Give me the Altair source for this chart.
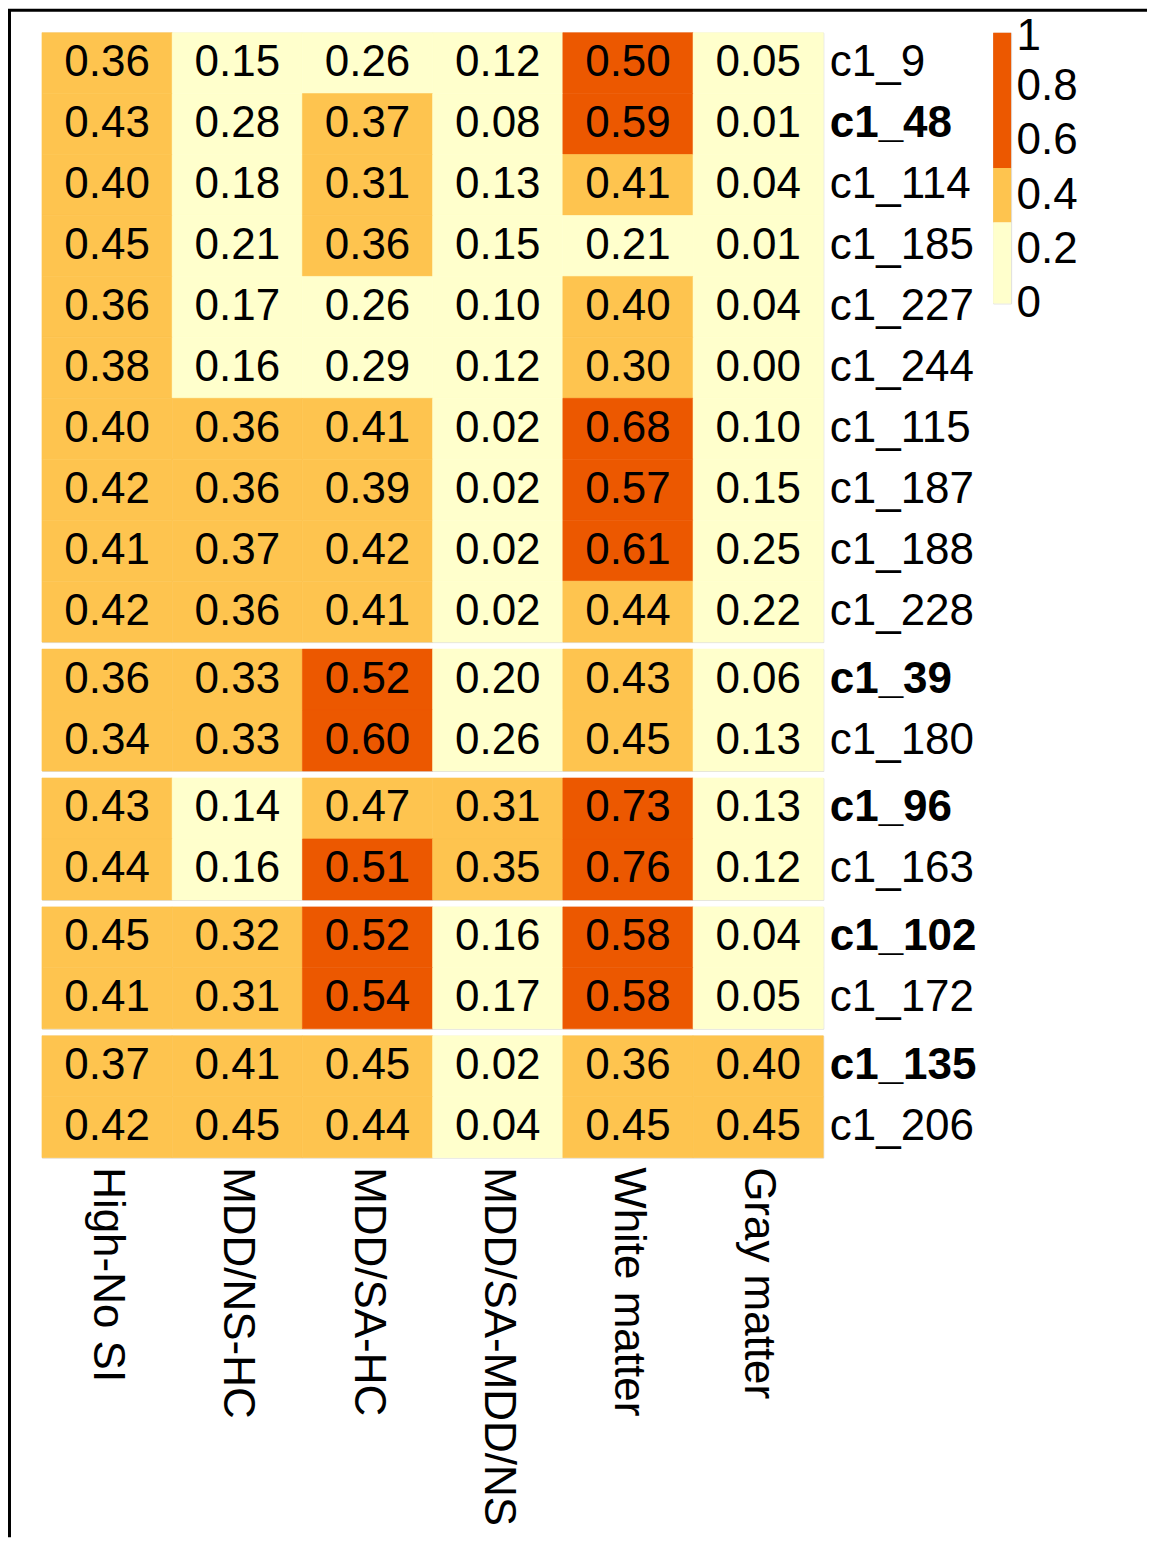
import json
import altair as alt
import pandas as pd

# ---------------- data ----------------
columns = ["High-No SI", "MDD/NS-HC", "MDD/SA-HC", "MDD/SA-MDD/NS", "White matter", "Gray matter"]
rows = ["c1_9", "c1_48", "c1_114", "c1_185", "c1_227", "c1_244", "c1_115", "c1_187", "c1_188", "c1_228",
        "c1_39", "c1_180", "c1_96", "c1_163", "c1_102", "c1_172", "c1_135", "c1_206"]
groups = [0, 0, 0, 0, 0, 0, 0, 0, 0, 0, 1, 1, 2, 2, 3, 3, 4, 4]
bold_rows = ["c1_48", "c1_39", "c1_96", "c1_102", "c1_135"]

high_no_si = [0.36, 0.43, 0.40, 0.45, 0.36, 0.38, 0.40, 0.42, 0.41, 0.42, 0.36, 0.34, 0.43, 0.44, 0.45, 0.41, 0.37, 0.42]
mdd_ns_hc = [0.15, 0.28, 0.18, 0.21, 0.17, 0.16, 0.36, 0.36, 0.37, 0.36, 0.33, 0.33, 0.14, 0.16, 0.32, 0.31, 0.41, 0.45]
mdd_sa_hc = [0.26, 0.37, 0.31, 0.36, 0.26, 0.29, 0.41, 0.39, 0.42, 0.41, 0.52, 0.60, 0.47, 0.51, 0.52, 0.54, 0.45, 0.44]
mdd_sa_mdd_ns = [0.12, 0.08, 0.13, 0.15, 0.10, 0.12, 0.02, 0.02, 0.02, 0.02, 0.20, 0.26, 0.31, 0.35, 0.16, 0.17, 0.02, 0.04]
white_matter = [0.50, 0.59, 0.41, 0.21, 0.40, 0.30, 0.68, 0.57, 0.61, 0.44, 0.43, 0.45, 0.73, 0.76, 0.58, 0.58, 0.36, 0.45]
gray_matter = [0.05, 0.01, 0.04, 0.01, 0.04, 0.00, 0.10, 0.15, 0.25, 0.22, 0.06, 0.13, 0.13, 0.12, 0.04, 0.05, 0.40, 0.45]

thresholds = [0.3, 0.5]
palette = ["#FFFFCC", "#FEC44F", "#EC5800"]
legend_lo = [0.0, 0.3, 0.5]
legend_hi = [0.3, 0.5, 1.0]
legend_ticks = [0, 0.2, 0.4, 0.6, 0.8, 1]

# ---------------- build table ----------------
series = [high_no_si, mdd_ns_hc, mdd_sa_hc, mdd_sa_mdd_ns, white_matter, gray_matter]
records = []
for i, r in enumerate(rows):
    for c, vals in zip(columns, series):
        records.append({"row": r, "column": c, "value": vals[i], "group": groups[i]})
df = pd.DataFrame(records)

FONT = "Liberation Sans"
FS = 44
ROW_H = 61
PLOT_W = 782

color_scale = alt.Scale(type="threshold", domain=thresholds, range=palette)
bold_test = "indexof(" + json.dumps(bold_rows) + ", datum.value) >= 0"

panels = []
n_groups = max(groups) + 1
for g in range(n_groups):
    sub = df[df["group"] == g]
    grow = [r for r, gg in zip(rows, groups) if gg == g]
    last = g == n_groups - 1
    xaxis = alt.Axis(orient="bottom", labelAngle=90, labelAlign="left", labelBaseline="middle",
                     labelPadding=9, labelLimit=1000, domain=False, ticks=False, title=None,
                     labelFont=FONT, labelFontSize=FS, labelColor="black") if last else None
    base = alt.Chart(sub).encode(
        x=alt.X("column:N", sort=columns, scale=alt.Scale(paddingInner=0, paddingOuter=0), axis=xaxis),
        y=alt.Y("row:N", sort=grow, scale=alt.Scale(paddingInner=0, paddingOuter=0),
                axis=alt.Axis(orient="right", domain=False, ticks=False, title=None, labelPadding=6,
                              labelLimit=1000, labelFont=FONT, labelFontSize=FS, labelColor="black",
                              labelFontWeight={"condition": {"test": bold_test, "value": "bold"},
                                               "value": "normal"})),
    )
    rects = base.mark_rect(strokeWidth=0.6).encode(
        color=alt.Color("value:Q", scale=color_scale, legend=None),
        stroke=alt.Stroke("value:Q", scale=color_scale, legend=None))
    texts = base.mark_text(font=FONT, fontSize=FS, color="black", align="center", baseline="middle").encode(
        text=alt.Text("value:Q", format=".2f"))
    panels.append((rects + texts).properties(width=PLOT_W, height=ROW_H * len(grow)))

heat = alt.vconcat(*panels, spacing=7, bounds="flush")

leg_df = pd.DataFrame({"lo": legend_lo, "hi": legend_hi})
legend_chart = alt.Chart(leg_df).mark_rect(strokeWidth=0).encode(
    y=alt.Y("lo:Q", scale=alt.Scale(domain=[0, 1], nice=False, zero=True),
            axis=alt.Axis(orient="right", values=legend_ticks, format="~g", labelPadding=5,
                          domain=False, ticks=False, grid=False, title=None, labelOverlap=False,
                          labelOffset={"condition": {"test": "datum.value == 1", "value": 4},
                                       "value": 0},
                          labelFont=FONT, labelFontSize=FS, labelColor="black")),
    y2="hi:Q",
    color=alt.Color("lo:Q", scale=color_scale, legend=None),
).properties(width=18, height=271)

main = alt.hconcat(heat, legend_chart, spacing=15, bounds="full")

dummy = pd.DataFrame({"d": [0]})
def blank(w, h, fill=None):
    ch = alt.Chart(dummy).mark_rect(opacity=0).encode(x=alt.value(0), y=alt.value(0))
    if fill:
        return ch.properties(width=w, height=h, view=alt.ViewBackground(fill=fill, stroke=None))
    return ch.properties(width=w, height=h, view=alt.ViewBackground(stroke=None))

content_row = alt.hconcat(blank(31, 10), main, spacing=0, bounds="flush")
right_side = alt.vconcat(blank(1137, 3, "black"), content_row, spacing=21, bounds="flush")
chart = alt.hconcat(blank(3, 1530, "black"), right_side, spacing=0, bounds="flush").properties(
    padding={"left": 0, "top": 0, "right": 5, "bottom": 5}
).configure_view(stroke=None).configure(font=FONT)

chart.save("out.html", embed_options={"renderer": "svg", "actions": False})
